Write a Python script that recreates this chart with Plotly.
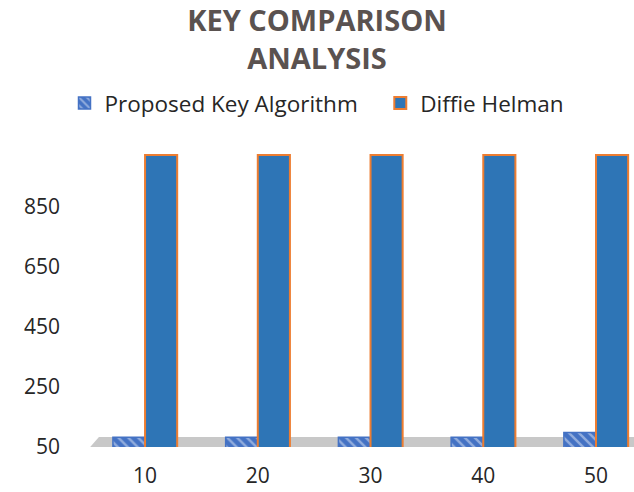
import plotly.graph_objects as go

categories = ["10", "20", "30", "40", "50"]
proposed_values = [82, 82, 82, 82, 98]
diffie_values = [1020, 1020, 1020, 1020, 1020]
y_tick_values = [50, 250, 450, 650, 850]
title_text = "KEY COMPARISON<br>ANALYSIS"
series_names = ["Proposed Key Algorithm", "Diffie Helman"]

W, H = 634, 492
ML, MR, MT, MB = 88, 0, 140, 45
plot_h = H - MT - MB

fig = go.Figure()
fig.add_trace(go.Bar(
    name=series_names[0] + "\u00a0\u00a0\u00a0", x=categories, y=proposed_values,
    marker=dict(color="#4472c4",
                line=dict(color="#4472c4", width=1.5),
                pattern=dict(shape="\\", fgcolor="#dde5f4", size=7, solidity=0.35)),
))
fig.add_trace(go.Bar(
    name=series_names[1], x=categories, y=diffie_values,
    marker=dict(color="#2e75b6", line=dict(color="#ed7d31", width=2)),
))

# gray floor band
fh = 10 / plot_h
fig.add_shape(type="path", xref="paper", yref="paper", layer="below",
              path=f"M 0.004 0 L 1 0 L 1 {fh} L 0.02 {fh} Z",
              fillcolor="#c8c8c8", line=dict(width=0))

fig.update_layout(
    width=W, height=H,
    margin=dict(l=ML, r=MR, t=MT, b=MB),
    paper_bgcolor="white", plot_bgcolor="white",
    barmode="group", bargap=0.43, bargroupgap=0.0,
    title=dict(text=title_text, x=0.5, xref="container", xanchor="center",
               y=0.936, yref="container", yanchor="top",
               font=dict(family="Open Sans", size=29, color="#5a5250", weight="bold")),
    legend=dict(orientation="h", x=0.5, xanchor="center", xref="container",
                y=0.79, yanchor="middle", yref="container",
                font=dict(family="Open Sans", size=22.5, color="#262626"),
                itemwidth=30, traceorder="normal"),
    xaxis=dict(type="category", range=[-0.506, 4.337], showgrid=False,
               zeroline=False, showline=False, ticks="",
               ticklabelstandoff=14,
               tickfont=dict(family="Open Sans", size=21, color="#262626")),
    yaxis=dict(range=[50, 1070], tickvals=y_tick_values, showgrid=False,
               zeroline=False, showline=False, ticks="",
               ticklabelstandoff=27,
               tickfont=dict(family="Open Sans", size=21, color="#262626")),
    showlegend=True,
)

fig.write_html("out.html")
